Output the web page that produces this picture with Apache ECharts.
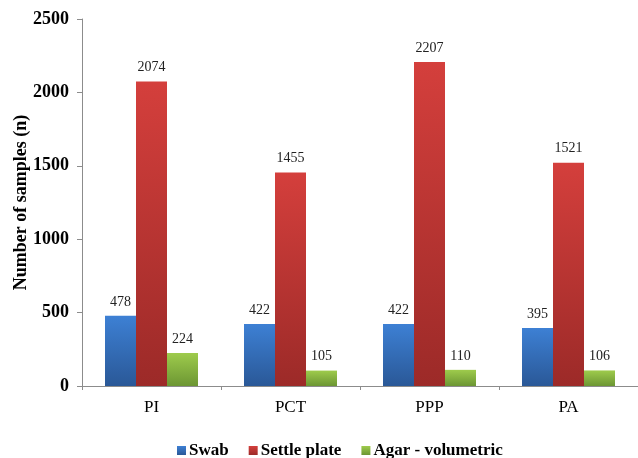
<!DOCTYPE html>
<html>
<head>
<meta charset="utf-8">
<script src="https://cdn.jsdelivr.net/npm/echarts@6/dist/echarts.min.js"></script>
<style>
  html, body { margin: 0; padding: 0; background: #fff; }
  #chart { width: 638px; height: 458px; }
</style>
</head>
<body>
<div id="chart"></div>
<script>
const categories = ['PI', 'PCT', 'PPP', 'PA'];
const swab = [478, 422, 422, 395];
const settlePlate = [2074, 1455, 2207, 1521];
const agarVolumetric = [224, 105, 110, 106];

const serif = '"Liberation Serif", "DejaVu Serif", serif';

function grad(top, bottom) {
  return new echarts.graphic.LinearGradient(0, 0, 0, 1, [
    { offset: 0, color: top },
    { offset: 1, color: bottom }
  ]);
}

const label = {
  show: true,
  position: 'top',
  distance: 7,
  fontFamily: serif,
  fontSize: 14,
  color: '#222'
};

const chart = echarts.init(document.getElementById('chart'));
chart.setOption({
  animation: false,
  textStyle: { fontFamily: serif },
  grid: { left: 82, top: 19, width: 560, height: 367, containLabel: false },
  legend: {
    left: 172,
    top: 437,
    itemWidth: 9,
    itemHeight: 9,
    itemGap: 20,
    icon: 'rect',
    textStyle: { fontFamily: serif, fontSize: 17, fontWeight: 'bold', color: '#000', padding: [0, 0, 0, -2] },
    data: ['Swab', 'Settle plate', 'Agar - volumetric']
  },
  xAxis: {
    type: 'category',
    data: categories,
    axisLine: { lineStyle: { color: '#8c8c8c', width: 1 } },
    axisTick: { show: true, length: 4, lineStyle: { color: '#8c8c8c' } },
    axisLabel: { fontFamily: serif, fontSize: 17, color: '#000', margin: 13 }
  },
  yAxis: {
    type: 'value',
    min: 0,
    max: 2500,
    interval: 500,
    name: 'Number of samples (n)',
    nameLocation: 'middle',
    nameGap: 52,
    nameMoveOverlap: false,
    nameTextStyle: { fontFamily: serif, fontSize: 18, fontWeight: 'bold', color: '#000' },
    splitLine: { show: false },
    axisLine: { show: true, lineStyle: { color: '#8c8c8c', width: 1 } },
    axisTick: { show: true, length: 5, lineStyle: { color: '#8c8c8c' } },
    axisLabel: {
      fontFamily: serif, fontSize: 18, fontWeight: 'bold', color: '#000', margin: 13,
      formatter: function (v) { return String(v); }
    }
  },
  series: [
    {
      name: 'Swab',
      type: 'bar',
      data: swab,
      barWidth: 31,
      barGap: '0%',
      itemStyle: { color: grad('#3d80d4', '#2a5897') },
      label: label
    },
    {
      name: 'Settle plate',
      type: 'bar',
      data: settlePlate,
      barWidth: 31,
      barGap: '0%',
      itemStyle: { color: grad('#d43f3c', '#9c2a28') },
      label: label
    },
    {
      name: 'Agar - volumetric',
      type: 'bar',
      data: agarVolumetric,
      barWidth: 31,
      barGap: '0%',
      itemStyle: { color: grad('#9ecb4c', '#6c9633') },
      label: label
    }
  ]
});
</script>
</body>
</html>
